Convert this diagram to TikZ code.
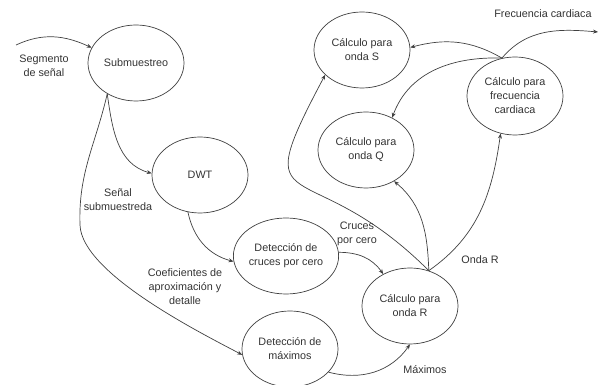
\documentclass[tikz,border=0pt]{standalone}
\usepackage{fontspec}
\setmainfont{Liberation Sans}
\usepackage{tikz}
\usetikzlibrary{arrows.meta,shapes.geometric}

\begin{document}
\begin{tikzpicture}[
  x=1pt,y=1pt,
  font=\fontsize{10.8}{14}\selectfont,
  every node/.style={text=black!80},
  proc/.style={draw=black!75,ellipse,line width=0.7pt,minimum width=96pt,minimum height=76pt,inner sep=0pt,align=center},
  lbl/.style={align=center,inner sep=0pt},
  flow/.style={->,draw=black!75,line width=0.7pt},
  >={Stealth[length=5pt,width=4pt]}]
  \useasboundingbox (0,0) rectangle (600,385);
  \node[proc] (sub) at (136,322) {Submuestreo};
  \node[proc] (dwt) at (200,210) {DWT};
  \node[proc] (cruces) at (286,129) {Detección de\\cruces por cero};
  \node[proc] (maxi) at (290,36) {Detección de\\máximos};
  \node[proc] (ondaR) at (410,79) {Cálculo para\\onda R};
  \node[proc] (ondaS) at (362,335) {Cálculo para\\onda S};
  \node[proc] (ondaQ) at (366,235) {Cálculo para\\onda Q};
  \node[proc,minimum height=78pt] (frec) at (515,289) {Cálculo para\\frecuencia\\cardiaca};
  \coordinate (in) at (16,340);
  \coordinate (out) at (598,353);
  \coordinate (knee) at (80,160);
  \node[lbl] (lseg) at (44,319) {Segmento\\de señal};
  \node[lbl] (lsub) at (118,185) {Señal\\submuestreda};
  \node[lbl] (lcoef) at (185,98) {Coeficientes de\\aproximación y\\detalle};
  \node[lbl] (lcru) at (357,151) {Cruces\\por cero};
  \node[lbl] (lmax) at (425,15) {Máximos};
  \node[lbl] (lond) at (480,125) {Onda R};
  \node[lbl] (lfrec) at (543,371) {Frecuencia cardiaca};
  \draw[flow] (in) to[out=25,in=155] (sub.161);
  \draw[flow] (sub.227) to[out=-82,in=165] (dwt.178);
  \draw[flow] (sub.227) to[out=-103,in=92] (knee)
    to[out=-88,in=152,out looseness=0.6,in looseness=0.55] (maxi.187);
  \draw[flow] (dwt.252) to[out=-78,in=165] (cruces.186);
  \draw[flow] (cruces.4) to[out=0,in=125] (ondaR.130);
  \draw[flow] (maxi.-31) to[out=-15,in=235] (ondaR.270);
  \draw[flow] (ondaR.62) to[out=35,in=-98] (frec.249);
  \draw[flow] (ondaR.62) to[out=92,in=-40] (ondaQ.-48);
  \draw[flow] (ondaR.62) to[out=135,in=242,looseness=2] (ondaS.214);
  \draw[flow] (frec.109) to[out=150,in=15] (ondaS.3);
  \draw[flow] (frec.109) to[out=178,in=70] (ondaQ.51);
  \draw[flow] (frec.109) to[out=50,in=175] (out);
\end{tikzpicture}
\end{document}
